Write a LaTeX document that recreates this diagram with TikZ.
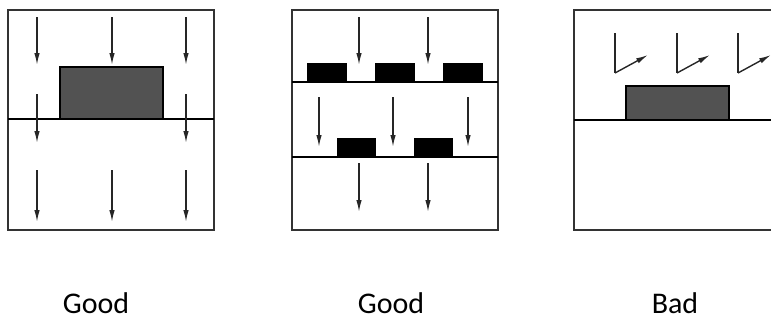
\documentclass[tikz,border=0pt]{standalone}
\usepackage{fontspec}
\setmainfont{Carlito}
\usetikzlibrary{arrows.meta}

\begin{document}
\begin{tikzpicture}[x=1pt, y=-1pt,
  frame/.style={draw=black!80, line width=1.8pt},
  layer/.style={draw=black, line width=1.3pt},
  flow/.style={draw=black!85, line width=1.4pt, -{Latex[length=12pt, width=5.5pt]}},
  dotblock/.style={draw=black, line width=1.2pt, fill=black!68},
  solidblock/.style={draw=black, fill=black, line width=0.8pt},
  caption/.style={font=\fontsize{30}{32}\selectfont, anchor=base, inner sep=0pt}]

% ramka obrazka
\useasboundingbox (0,0) rectangle (771,324);

% ---------- Panel 1 ----------
\draw[frame] (8,10) rectangle (214,230);
\draw[layer] (8,119) -- (214,119);
\draw[dotblock] (60,67) rectangle (163,119);
\foreach \x in {37,112,186} {
  \draw[flow] (\x,17) -- (\x,65);
  \draw[flow] (\x,170) -- (\x,222);
}
\foreach \x in {37,186} {
  \draw[flow] (\x,94) -- (\x,143);
}

% ---------- Panel 2 ----------
\draw[frame] (292,10) rectangle (498,230);
\draw[layer] (292,82) -- (498,82);
\draw[layer] (292,157) -- (498,157);
\foreach \x in {307,375,443} {
  \fill[solidblock] (\x,63) rectangle ++(39,19);
}
\foreach \x in {337,414} {
  \fill[solidblock] (\x,138) rectangle ++(38,19);
}
\foreach \x in {359,428} {
  \draw[flow] (\x,17) -- (\x,65);
  \draw[flow] (\x,163) -- (\x,212);
}
\foreach \x in {319,393,468} {
  \draw[flow] (\x,97) -- (\x,147);
}

% ---------- Panel 3 ----------
\draw[frame] (574,10) rectangle (800,230);
\draw[layer] (574,120) -- (800,120);
\draw[dotblock] (626,86) rectangle (729,120);
\foreach \x in {615,677,738} {
  \draw[black!85, line width=1.4pt] (\x,33) -- (\x,73);
  \draw[flow] (\x,73) -- ++(33,-18);
}

% ---------- Podpisy ----------
\node[caption] (good1) at (96,313) {Good};
\node[caption] (good2) at (391,313) {Good};
\node[caption] (bad) at (675,313) {Bad};

\end{tikzpicture}
\end{document}
